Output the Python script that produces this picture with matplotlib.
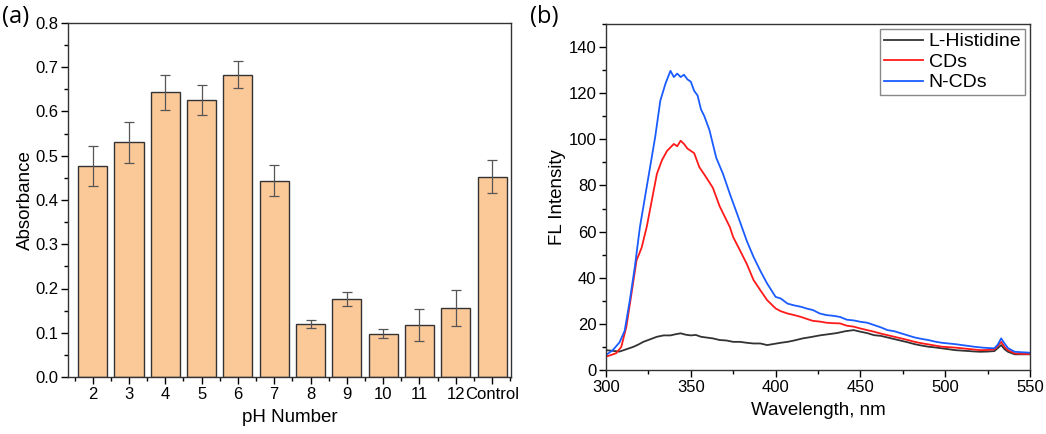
import numpy as np
import matplotlib
matplotlib.use("Agg")
from matplotlib import pyplot as plt
from matplotlib.ticker import MultipleLocator

plt.rcParams['font.family'] = ['Liberation Sans', 'DejaVu Sans']

# panel (a): absorbance vs pH
ph_labels = ['2', '3', '4', '5', '6', '7', '8', '9', '10', '11', '12', 'Control']
absorbance = [0.477, 0.530, 0.643, 0.626, 0.683, 0.444, 0.120, 0.176, 0.098, 0.118, 0.156, 0.453]
abs_err = [0.045, 0.046, 0.040, 0.035, 0.031, 0.035, 0.009, 0.015, 0.010, 0.036, 0.040, 0.038]

# panel (b): fluorescence spectra
wl_ncd = [300, 304, 308, 311, 314, 317, 320, 323, 326, 329, 332, 335, 338, 340, 342, 344, 346, 348,
          350, 352, 354, 356, 358, 361, 365, 369, 373, 378, 383, 387, 391, 395, 400, 403, 407, 411,
          415, 419, 422, 426, 430, 434, 438, 442, 446, 450, 454, 458, 462, 466, 470, 474, 478, 482,
          486, 490, 494, 498, 502, 506, 510, 514, 518, 522, 526, 529, 531, 533, 535, 537, 541, 545, 550]
fl_ncd = [6.5, 8.6, 12, 17, 30, 44.7, 62, 75, 88, 101, 116.7, 124, 129.7, 127, 128.5, 127, 128, 126,
          125, 121, 119, 113, 110, 104, 92, 85, 76.4, 66.3, 56, 49, 43, 37.5, 31.7, 31, 28.8, 28,
          27.4, 26.5, 26, 24.5, 23.8, 23.5, 23, 21.8, 21.5, 20.9, 20.5, 19.5, 18.5, 17.3, 16.8, 15.9, 15, 14.1,
          13.5, 13, 12.3, 11.8, 11.5, 11.2, 10.8, 10.4, 10, 9.7, 9.5, 9.4, 11, 13.7, 11.5, 9.5, 7.9, 7.7, 7.5]
wl_cd = [300, 303, 306, 309, 312, 315, 318, 321, 324, 327, 330, 333, 336, 338, 340, 342, 344, 346,
         348, 352, 355, 359, 363, 367, 371, 373, 375, 378, 383, 387, 391, 395, 400, 403, 407, 411,
         415, 419, 422, 426, 430, 434, 438, 442, 446, 450, 454, 458, 462, 466, 470, 474, 478, 482,
         486, 490, 494, 498, 502, 506, 510, 514, 518, 521, 525, 529, 531, 533, 535, 537, 541, 545, 550]
fl_cd = [5.8, 6.5, 7.3, 10, 18.7, 33, 47.5, 53, 62, 73.5, 85, 91, 95, 96.5, 98, 97, 99.4, 98,
         96, 94, 88, 83.6, 79, 71, 65, 62, 57.6, 53.3, 46, 39, 34.6, 30.3, 26.7, 25.5, 24.5, 23.8,
         23, 22, 21.3, 21, 20.5, 20.3, 20.2, 19.2, 18.8, 18, 17.3, 16.6, 15.8, 15.1, 14.4, 13.7, 13, 12.2,
         11.6, 11.1, 10.6, 10.1, 9.9, 9.7, 9.4, 9.1, 8.8, 8.6, 8.7, 8.9, 10.5, 12.2, 10, 8.6, 7.2, 7, 6.9]
wl_his = [300, 304, 308, 312, 316, 319, 322, 326, 330, 334, 338, 341, 344, 347, 350, 353, 356, 360,
          363, 367, 371, 375, 379, 383, 387, 391, 395, 399, 403, 407, 411, 416, 421, 426, 431, 436,
          441, 446, 450, 454, 458, 462, 466, 470, 474, 478, 482, 486, 490, 494, 498, 502, 506, 510,
          514, 518, 521, 525, 529, 531, 533, 535, 537, 541, 545, 550]
fl_his = [8.6, 8.3, 8, 9, 10, 11, 12.2, 13.3, 14.4, 15, 15, 15.5, 15.9, 15.3, 15, 15.2, 14.4, 14,
          13.7, 13, 12.8, 12.2, 12.2, 11.8, 11.5, 11.5, 10.8, 11.3, 11.8, 12.2, 12.8, 13.7, 14.3, 15, 15.5, 16,
          16.8, 17.3, 16.6, 16, 15.1, 14.8, 14.1, 13.4, 12.7, 12, 11.2, 10.6, 10.1, 9.8, 9.4, 9, 8.6, 8.4,
          8.2, 8, 7.9, 8, 8.2, 9.5, 10.8, 9, 7.9, 6.8, 6.8, 6.8]

fig = plt.figure(figsize=(10.46, 4.34), dpi=100)
ax1 = fig.add_axes([68 / 1046, 1 - 377 / 434, (511 - 68) / 1046, (377 - 23) / 434])
ax2 = fig.add_axes([606 / 1046, 1 - 370 / 434, (1030 - 606) / 1046, (370 - 24) / 434])

x = np.arange(1, len(ph_labels) + 1)
ax1.bar(x, absorbance, width=0.8, color='#fbc898', edgecolor='#333333', linewidth=1.0,
        yerr=abs_err, error_kw=dict(ecolor='#555555', elinewidth=0.9, capsize=3.5, capthick=0.9))
ax1.set_xlim(0.32, 12.52)
ax1.set_ylim(0, 0.8)
ax1.set_xticks(x)
ax1.set_xticklabels(ph_labels)
ax1.xaxis.set_minor_locator(MultipleLocator(0.5))
ax1.yaxis.set_major_locator(MultipleLocator(0.1))
ax1.yaxis.set_minor_locator(MultipleLocator(0.05))
ax1.set_xlabel('pH Number', fontsize=13.5, labelpad=5)
ax1.set_ylabel('Absorbance', fontsize=13.5, labelpad=1)

ax2.plot(wl_his, fl_his, color='#333333', lw=1.3, label='L-Histidine')
ax2.plot(wl_cd, fl_cd, color='#ff1a1a', lw=1.3, label='CDs')
ax2.plot(wl_ncd, fl_ncd, color='#1a5cff', lw=1.3, label='N-CDs')
ax2.set_xlim(300, 550)
ax2.set_ylim(0, 150)
ax2.xaxis.set_major_locator(MultipleLocator(50))
ax2.xaxis.set_minor_locator(MultipleLocator(25))
ax2.yaxis.set_minor_locator(MultipleLocator(10))
ax2.set_yticks([0, 20, 40, 60, 80, 100, 120, 140])
ax2.set_xlabel('Wavelength, nm', fontsize=13.5, labelpad=5)
ax2.set_ylabel('FL Intensity', fontsize=13.5, labelpad=2)
leg = ax2.legend(loc='upper right', fontsize=14, fancybox=False, framealpha=1,
                 edgecolor='#888888', handlelength=2.0, borderpad=0.2, labelspacing=0.15,
                 handletextpad=0.3, borderaxespad=0.25)

for ax in (ax1, ax2):
    ax.tick_params(axis='both', which='major', direction='out', length=5, width=1,
                   labelsize=12, pad=2, top=False, right=False)
    ax.tick_params(axis='both', which='minor', direction='out', length=3, width=1,
                   top=False, right=False)
    for s in ax.spines.values():
        s.set_color('#333333')
        s.set_linewidth(1.0)

fig.text(2 / 1046, 1 - 17 / 434, '(a)', fontsize=17, family=['Open Sans', 'DejaVu Sans'], va='center')
fig.text(530 / 1046, 1 - 17 / 434, '(b)', fontsize=17, family=['Open Sans', 'DejaVu Sans'], va='center')

fig.savefig('out.png', dpi=100)
